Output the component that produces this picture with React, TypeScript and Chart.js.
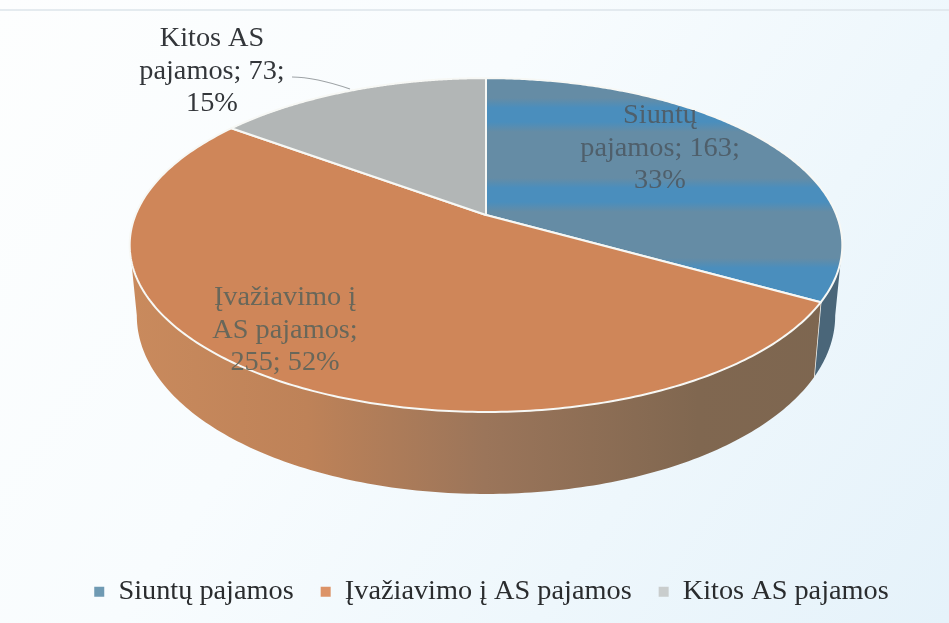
import React, { useEffect, useRef } from "react";
import { Chart, registerables } from "chart.js";

Chart.register(...registerables);

const categories = ["Siuntų pajamos", "Įvažiavimo į AS pajamos", "Kitos AS pajamos"];
const values = [163, 255, 73];
const percents = [33, 52, 15];
const legendColors = ["#6f9ab3", "#dc9367", "#c9cdcd"];
const faceColors = ["#5f8fae", "#cf8659", "#b2b6b6"];

// Perspective of the tilted disc
const CX = 486;
const CY = 215;
const RX = 350.5;
const RY = 161.5;
const K = 0.18;

const project = (a: number) => {
  const u = Math.cos(a);
  const v = Math.sin(a);
  const d = 1 - K * v;
  return { x: CX + (RX * u) / d, y: CY + (RY * v) / d, v };
};
const projectBottom = (a: number) => {
  const p = project(a);
  return { x: CX + (p.x - CX) * 0.98, y: p.y + 68 + 14 * p.v };
};

const labelLayout = [
  { x: 660, y: 116, lines: (n: number, p: number) => ["Siuntų", `pajamos; ${n};`, `${p}%`], color: "#4f5f6b" },
  { x: 285, y: 298, lines: (n: number, p: number) => ["Įvažiavimo į", "AS pajamos;", `${n}; ${p}%`], color: "#68675a" },
  { x: 212, y: 39, lines: (n: number, p: number) => ["Kitos AS", `pajamos; ${n};`, `${p}%`], color: "#33363a" },
];

const pie3d = {
  id: "pie3d",
  beforeDatasetsDraw(chart: any) {
    const ctx = chart.ctx as CanvasRenderingContext2D;
    const arcs = chart.getDatasetMeta(0).data;
    const lim0 = Math.asin(K);
    const lim1 = Math.PI - lim0;

    const wall = ctx.createLinearGradient(130, 0, 840, 0);
    wall.addColorStop(0, "#c98a5d");
    wall.addColorStop(0.25, "#be8258");
    wall.addColorStop(0.5, "#9b755a");
    wall.addColorStop(0.8, "#806750");
    wall.addColorStop(1, "#7d6650");

    ctx.save();
    arcs.forEach((arc: any, i: number) => {
      const { startAngle, endAngle } = arc.getProps(["startAngle", "endAngle"], true);
      const s = Math.max(startAngle, lim0);
      const e = Math.min(endAngle, lim1);
      if (e <= s) return;
      const N = 160;
      ctx.beginPath();
      for (let j = 0; j <= N; j++) {
        const p = project(s + ((e - s) * j) / N);
        j === 0 ? ctx.moveTo(p.x, p.y) : ctx.lineTo(p.x, p.y);
      }
      for (let j = N; j >= 0; j--) {
        const p = projectBottom(s + ((e - s) * j) / N);
        ctx.lineTo(p.x, p.y);
      }
      ctx.closePath();
      ctx.fillStyle = i === 0 ? "#4a6679" : wall;
      ctx.fill();
      if (i === 0) {
        const t = project(e);
        const b = projectBottom(e);
        ctx.beginPath();
        ctx.moveTo(t.x, t.y);
        ctx.lineTo(b.x, b.y);
        ctx.strokeStyle = "#f4f4f0";
        ctx.lineWidth = 1.5;
        ctx.stroke();
      }
    });

    const bands = ctx.createLinearGradient(0, 78, 0, 305);
    const Y = (y: number) => (y - 78) / (305 - 78);
    const grey = "#658ca5";
    const blue = "#4a8ebd";
    [
      [80, grey], [98, grey], [108, blue], [122, blue], [132, grey], [178, grey], [188, blue],
      [202, blue], [212, grey], [258, grey], [268, blue], [305, blue],
    ].forEach(([y, c]) => bands.addColorStop(Y(y as number), c as string));

    const faces = [bands, faceColors[1], faceColors[2]];
    arcs.forEach((arc: any, i: number) => {
      const { startAngle, endAngle } = arc.getProps(["startAngle", "endAngle"], true);
      const N = 240;
      ctx.beginPath();
      ctx.moveTo(CX, CY);
      for (let j = 0; j <= N; j++) {
        const p = project(startAngle + ((endAngle - startAngle) * j) / N);
        ctx.lineTo(p.x, p.y);
      }
      ctx.closePath();
      ctx.fillStyle = faces[i];
      ctx.fill();
      ctx.strokeStyle = "#f7f8f5";
      ctx.lineWidth = 2;
      ctx.lineJoin = "round";
      ctx.stroke();
    });
    ctx.restore();
    return false;
  },
  afterDraw(chart: any) {
    const ctx = chart.ctx as CanvasRenderingContext2D;
    ctx.save();
    // thin scan edge at the top
    ctx.strokeStyle = "#dde5ea";
    ctx.lineWidth = 1.5;
    ctx.beginPath();
    ctx.moveTo(0, 10);
    ctx.lineTo(949, 10);
    ctx.stroke();
    // leader line
    ctx.strokeStyle = "#9ea3a6";
    ctx.lineWidth = 1.2;
    ctx.beginPath();
    ctx.moveTo(292, 77);
    ctx.quadraticCurveTo(315, 77, 350, 89);
    ctx.stroke();
    // data labels
    ctx.font = '28.3px "Liberation Serif"';
    ctx.textAlign = "center";
    ctx.textBaseline = "middle";
    labelLayout.forEach((l, i) => {
      ctx.fillStyle = l.color;
      l.lines(values[i], percents[i]).forEach((t, j) => {
        ctx.fillText(t, l.x, l.y + j * 32.5);
      });
    });
    ctx.restore();
  },
};

export default function App() {
  const ref = useRef<HTMLCanvasElement>(null);
  useEffect(() => {
    document.body.style.margin = "0";
    const chart = new Chart(ref.current!, {
      type: "pie",
      data: {
        labels: categories,
        datasets: [{ data: values, backgroundColor: legendColors, borderWidth: 0 }],
      },
      options: {
        animation: false,
        responsive: false,
        layout: { padding: { left: 34, bottom: 7 } },
        plugins: {
          tooltip: { enabled: false },
          title: { display: false },
          legend: {
            position: "bottom",
            labels: {
              boxWidth: 10,
              boxHeight: 10,
              padding: 27,
              color: "#2a2c2e",
              font: { family: '"Liberation Serif"', size: 28.3 },
            },
          },
        },
      },
      plugins: [pie3d],
    } as any);
    return () => chart.destroy();
  }, []);
  return (
    <div
      style={{
        width: 949,
        height: 623,
        overflow: "hidden",
        background: "linear-gradient(125deg, #fdfefe 0%, #f8fcfe 40%, #eef7fc 70%, #e5f2fa 100%)",
      }}
    >
      <canvas ref={ref} width={949} height={623} style={{ display: "block" }} />
    </div>
  );
}
